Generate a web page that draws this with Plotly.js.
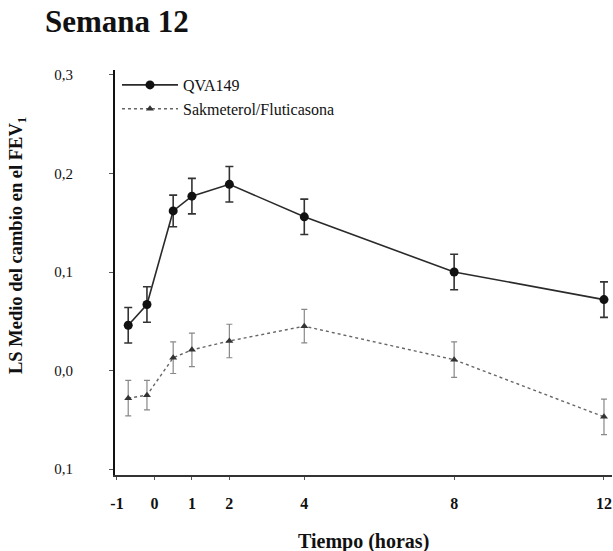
<!DOCTYPE html>
<html>
<head>
<meta charset="utf-8">
<script src="https://cdn.plot.ly/plotly-3.0.1.min.js"></script>
<style>html,body{margin:0;padding:0;background:#fff;}#chart{width:613px;height:551px;}</style>
</head>
<body>
<div id="chart"></div>
<script>
// Time points (hours)
const times = [-0.7, -0.2, 0.5, 1, 2, 4, 8, 12];
// QVA149 LS mean change in FEV1 and SE
const qva = [0.046, 0.067, 0.162, 0.177, 0.189, 0.156, 0.100, 0.072];
const qvaErr = [0.018, 0.018, 0.016, 0.018, 0.018, 0.018, 0.018, 0.018];
// Salmeterol/Fluticasona
const sfc = [-0.028, -0.025, 0.013, 0.021, 0.030, 0.045, 0.011, -0.047];
const sfcErr = [0.018, 0.015, 0.016, 0.017, 0.017, 0.017, 0.018, 0.018];
// Axis ticks
const xTickVals = [-1, 0, 1, 2, 4, 8, 12];
const xTickText = ['-1', '0', '1', '2', '4', '8', '12'];
const yTickVals = [0.3, 0.2, 0.1, 0.0, -0.1];
const yTickText = ['0,3', '0,2', '0,1', '0,0', '0,1'];
const seriesNames = ['QVA149', 'Sakmeterol/Fluticasona'];

const serif = '"Liberation Serif", "DejaVu Serif", serif';

const traces = [
  {
    x: times, y: qva, name: seriesNames[0], type: 'scatter', mode: 'lines+markers',
    line: {color: '#2a2a2a', width: 1.6},
    marker: {symbol: 'circle', size: 9, color: '#111'},
    error_y: {type: 'data', array: qvaErr, visible: true, color: '#333', thickness: 1.6, width: 4}
  },
  {
    x: times, y: sfc, name: seriesNames[1], type: 'scatter', mode: 'lines+markers',
    line: {color: '#666', width: 1.4, dash: 'dot'},
    marker: {symbol: 'triangle-up', size: 7, color: '#333'},
    error_y: {type: 'data', array: sfcErr, visible: true, color: '#888', thickness: 1.2, width: 3}
  }
];

const layout = {
  width: 613, height: 551,
  margin: {l: 115, r: 1, t: 70, b: 76},
  paper_bgcolor: '#fff', plot_bgcolor: '#fff',
  showlegend: true,
  title: {
    text: '<b>Semana 12</b>', x: 45/613, xanchor: 'left', xref: 'container',
    y: 1 - 21/551, yanchor: 'middle', yref: 'container',
    font: {family: serif, size: 31, color: '#111'}
  },
  legend: {
    x: 0.004, y: 1.005, xanchor: 'left', yanchor: 'top',
    bgcolor: 'rgba(0,0,0,0)', borderwidth: 0, itemwidth: 56,
    font: {family: serif, size: 16, color: '#111'},
    tracegroupgap: 0
  },
  xaxis: {
    range: [-1.053, 12.214], showgrid: false, zeroline: false,
    showline: true, linecolor: '#333', linewidth: 2,
    tickmode: 'array', tickvals: xTickVals, ticktext: xTickText,
    ticks: 'outside', ticklen: 3, tickcolor: '#555',
    ticklabelstandoff: 10, ticklabeloverflow: 'allow',
    tickfont: {family: serif, size: 16, color: '#111', weight: 'bold'}
  },
  yaxis: {
    range: [-0.106, 0.305], showgrid: false, zeroline: false,
    showline: true, linecolor: '#111', linewidth: 2,
    tickmode: 'array', tickvals: yTickVals, ticktext: yTickText,
    ticks: 'outside', ticklen: 4, tickcolor: '#555',
    ticklabelstandoff: 33,
    tickfont: {family: serif, size: 15, color: '#111'}
  },
  annotations: [
    {
      text: '<b>LS Medio del cambio en el FEV<sub>1</sub></b>', textangle: -90,
      xref: 'paper', yref: 'paper', x: (17 - 115) / 497, y: (475 - 246) / 405,
      xanchor: 'center', yanchor: 'middle', showarrow: false,
      font: {family: serif, size: 18.5, color: '#111'}
    },
    {
      text: '<b>Tiempo (horas)</b>',
      xref: 'paper', yref: 'paper', x: 0.5, y: (475 - 541) / 405,
      xanchor: 'center', yanchor: 'middle', showarrow: false,
      font: {family: serif, size: 20, color: '#111'}
    }
  ]
};

Plotly.newPlot('chart', traces, layout, {displayModeBar: false, staticPlot: true});
</script>
</body>
</html>
